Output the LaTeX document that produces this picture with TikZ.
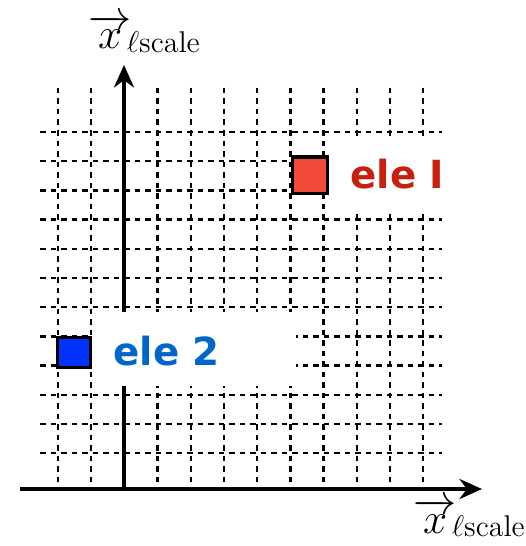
\documentclass[tikz,border=0pt]{standalone}
\usepackage{amsmath}
\usepackage{fontspec}
\newfontfamily\elefont{DejaVu Sans}
\usepackage{tikz}
\usetikzlibrary{arrows.meta}
\definecolor{elered}{RGB}{244,74,58}
\definecolor{eleredtext}{RGB}{200,32,14}
\definecolor{eleblue}{RGB}{0,51,255}
\definecolor{elebluetext}{RGB}{0,102,204}
\newcommand{\xscalelabel}{$\overrightarrow{x}\mkern-2mu\raisebox{-1.2pt}{$\scriptstyle\ell\text{scale}$}$}
\tikzset{
  gridline/.style={line width=0.95pt,dash pattern=on 2.2pt off 2pt},
  axis/.style={line width=1.6pt,-{Stealth[length=9pt,width=8pt]}},
  cell/.style={draw,line width=1.2pt},
  elelabel/.style={font=\elefont\bfseries\fontsize{15.5}{18}\selectfont,anchor=base west,inner sep=0pt},
  axislabel/.style={font=\LARGE,anchor=base west,inner sep=0pt}
}

\begin{document}
\begin{tikzpicture}[x=0.4pt,y=-0.4pt]
\useasboundingbox (0,0) rectangle (526,546);
\foreach \i in {0,...,11}
  \draw[gridline] ({58+33.2*\i},88) -- ({58+33.2*\i},489);
\foreach \j in {0,...,11}
  \draw[gridline] (40,{132+29.2*\j}) -- (442,{132+29.2*\j});
\coordinate (xstart) at (20,489);
\coordinate (xend) at (482,489);
\coordinate (origin) at (124,489);
\coordinate (yend) at (124,65);
\draw[axis] (xstart) -- (xend);
\draw[axis] (origin) -- (yend);
\fill[white] (92,312) rectangle (296,386);
\fill[white] (330,136) rectangle (446,211);
\draw[cell,fill=eleblue] (57,337) rectangle (90,367);
\draw[cell,fill=elered] (292,157) rectangle (327,193);
\node[elelabel,text=elebluetext] (ele2) at (113,365) {ele 2};
\node[elelabel,text=eleredtext] (ele1) at (350,188) {ele I};
\node[axislabel] (ylabel) at (88,49) {\xscalelabel};
\node[axislabel] (xlabel) at (413,533) {\xscalelabel};
\end{tikzpicture}
\end{document}
